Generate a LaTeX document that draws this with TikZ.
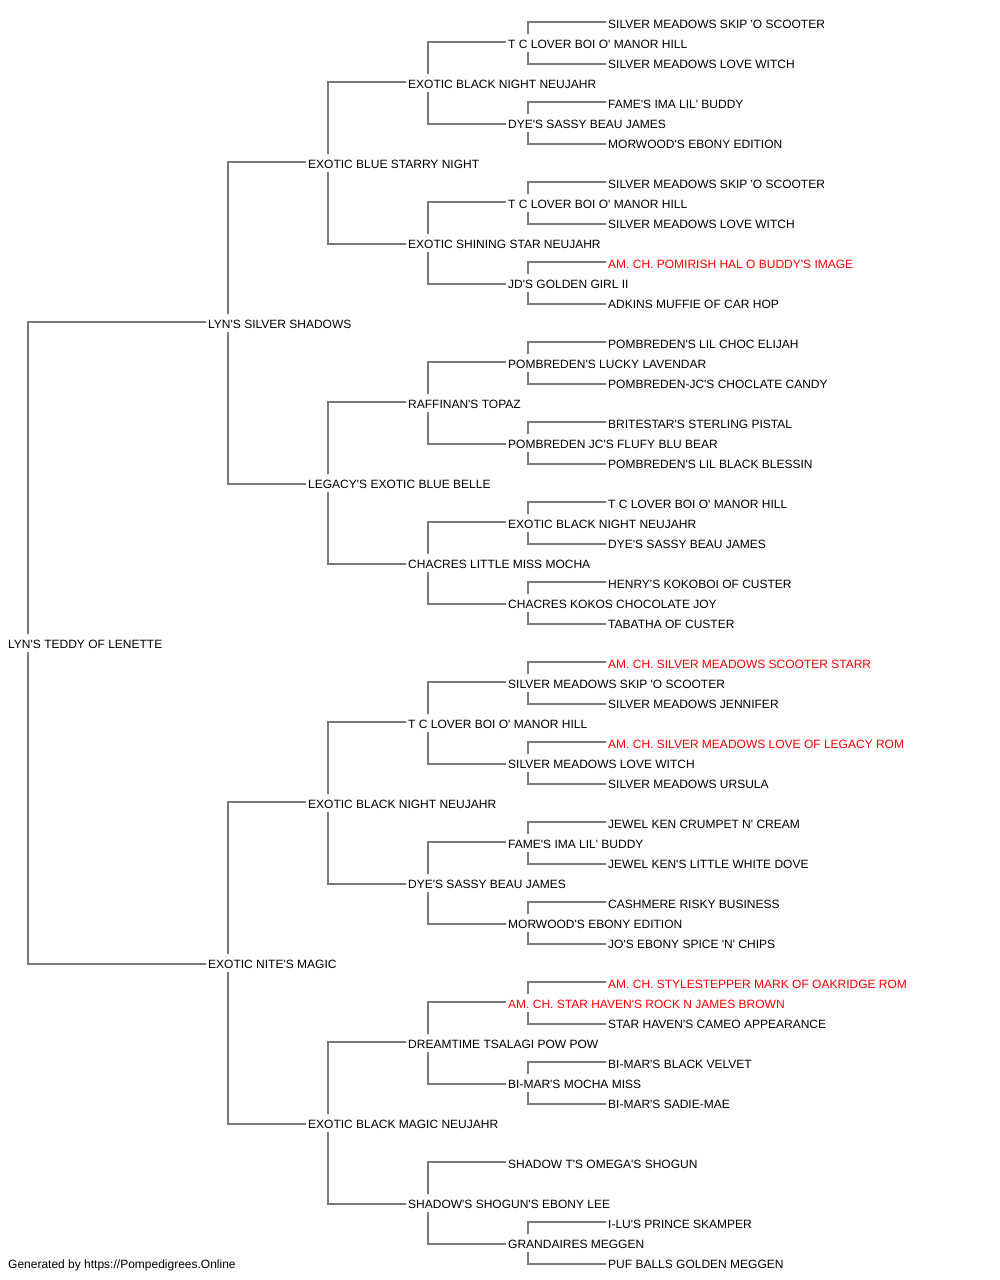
\documentclass[tikz,border=0pt]{standalone}
\usepackage{fontspec}
\newfontfamily\pedfont{Liberation Sans}
\usetikzlibrary{calc}
\definecolor{linkgray}{RGB}{122,122,122}
\definecolor{champred}{RGB}{255,0,0}
\tikzset{
  ped/.style={anchor=west, inner xsep=2pt, inner ysep=0pt, minimum height=17pt,
    text height=10.2pt, text depth=0pt, font=\pedfont\fontsize{12}{14}\selectfont, text=black},
  champ/.style={ped, text=champred},
  link/.style={draw=linkgray, line width=1.5pt},
}
\newcommand\pn[4][ped]{\node[#1] (n#2) at ({#3-2},{23+20*#2}) {#4};}
\newcommand\pedlink[4]{\path (n#1.west) ++(22pt,0pt) coordinate (tmp#1);
  \draw[link] (tmp#1 |- n#1.#3) |- ([yshift=#4]n#2.west);}
\begin{document}
\begin{tikzpicture}[x=1pt,y=-1pt]
\useasboundingbox (0,0) rectangle (1000,1280);
\pn{0}{608}{SILVER MEADOWS SKIP 'O SCOOTER}
\pn{1}{508}{T C LOVER BOI O' MANOR HILL}
\pn{2}{608}{SILVER MEADOWS LOVE WITCH}
\pn{3}{408}{EXOTIC BLACK NIGHT NEUJAHR}
\pn{4}{608}{FAME'S IMA LIL' BUDDY}
\pn{5}{508}{DYE'S SASSY BEAU JAMES}
\pn{6}{608}{MORWOOD'S EBONY EDITION}
\pn{7}{308}{EXOTIC BLUE STARRY NIGHT}
\pn{8}{608}{SILVER MEADOWS SKIP 'O SCOOTER}
\pn{9}{508}{T C LOVER BOI O' MANOR HILL}
\pn{10}{608}{SILVER MEADOWS LOVE WITCH}
\pn{11}{408}{EXOTIC SHINING STAR NEUJAHR}
\pn[champ]{12}{608}{AM. CH. POMIRISH HAL O BUDDY'S IMAGE}
\pn{13}{508}{JD'S GOLDEN GIRL II}
\pn{14}{608}{ADKINS MUFFIE OF CAR HOP}
\pn{15}{208}{LYN'S SILVER SHADOWS}
\pn{16}{608}{POMBREDEN'S LIL CHOC ELIJAH}
\pn{17}{508}{POMBREDEN'S LUCKY LAVENDAR}
\pn{18}{608}{POMBREDEN-JC'S CHOCLATE CANDY}
\pn{19}{408}{RAFFINAN'S TOPAZ}
\pn{20}{608}{BRITESTAR'S STERLING PISTAL}
\pn{21}{508}{POMBREDEN JC'S FLUFY BLU BEAR}
\pn{22}{608}{POMBREDEN'S LIL BLACK BLESSIN}
\pn{23}{308}{LEGACY'S EXOTIC BLUE BELLE}
\pn{24}{608}{T C LOVER BOI O' MANOR HILL}
\pn{25}{508}{EXOTIC BLACK NIGHT NEUJAHR}
\pn{26}{608}{DYE'S SASSY BEAU JAMES}
\pn{27}{408}{CHACRES LITTLE MISS MOCHA}
\pn{28}{608}{HENRY'S KOKOBOI OF CUSTER}
\pn{29}{508}{CHACRES KOKOS CHOCOLATE JOY}
\pn{30}{608}{TABATHA OF CUSTER}
\pn{31}{8}{LYN'S TEDDY OF LENETTE}
\pn[champ]{32}{608}{AM. CH. SILVER MEADOWS SCOOTER STARR}
\pn{33}{508}{SILVER MEADOWS SKIP 'O SCOOTER}
\pn{34}{608}{SILVER MEADOWS JENNIFER}
\pn{35}{408}{T C LOVER BOI O' MANOR HILL}
\pn[champ]{36}{608}{AM. CH. SILVER MEADOWS LOVE OF LEGACY ROM}
\pn{37}{508}{SILVER MEADOWS LOVE WITCH}
\pn{38}{608}{SILVER MEADOWS URSULA}
\pn{39}{308}{EXOTIC BLACK NIGHT NEUJAHR}
\pn{40}{608}{JEWEL KEN CRUMPET N' CREAM}
\pn{41}{508}{FAME'S IMA LIL' BUDDY}
\pn{42}{608}{JEWEL KEN'S LITTLE WHITE DOVE}
\pn{43}{408}{DYE'S SASSY BEAU JAMES}
\pn{44}{608}{CASHMERE RISKY BUSINESS}
\pn{45}{508}{MORWOOD'S EBONY EDITION}
\pn{46}{608}{JO'S EBONY SPICE 'N' CHIPS}
\pn{47}{208}{EXOTIC NITE'S MAGIC}
\pn[champ]{48}{608}{AM. CH. STYLESTEPPER MARK OF OAKRIDGE ROM}
\pn[champ]{49}{508}{AM. CH. STAR HAVEN'S ROCK N JAMES BROWN}
\pn{50}{608}{STAR HAVEN'S CAMEO APPEARANCE}
\pn{51}{408}{DREAMTIME TSALAGI POW POW}
\pn{52}{608}{BI-MAR'S BLACK VELVET}
\pn{53}{508}{BI-MAR'S MOCHA MISS}
\pn{54}{608}{BI-MAR'S SADIE-MAE}
\pn{55}{308}{EXOTIC BLACK MAGIC NEUJAHR}
\pn{57}{508}{SHADOW T'S OMEGA'S SHOGUN}
\pn{59}{408}{SHADOW'S SHOGUN'S EBONY LEE}
\pn{60}{608}{I-LU'S PRINCE SKAMPER}
\pn{61}{508}{GRANDAIRES MEGGEN}
\pn{62}{608}{PUF BALLS GOLDEN MEGGEN}
\node[ped] (footer) at (6,1263) {Generated by https://Pompedigrees.Online};
\foreach \p/\o in {1/1,5/1,9/1,13/1,17/1,21/1,25/1,29/1,33/1,37/1,41/1,45/1,49/1,53/1,61/1,
  3/2,11/2,19/2,27/2,35/2,43/2,51/2,59/2,7/4,23/4,39/4,55/4,15/8,47/8,31/16}{
  \pgfmathtruncatemacro\up{\p-\o}
  \pgfmathtruncatemacro\dn{\p+\o}
  \pedlink{\p}{\up}{north}{1pt}
  \pedlink{\p}{\dn}{south}{-1pt}
}
\end{tikzpicture}
\end{document}
